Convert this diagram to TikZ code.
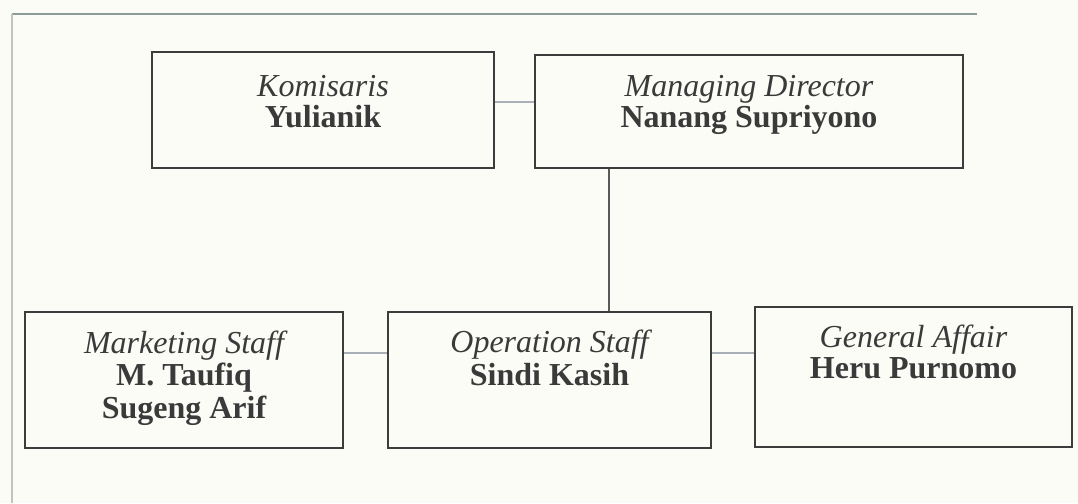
\documentclass[tikz,border=0pt]{standalone}
\usepackage{fontspec}
\setmainfont{Liberation Serif}
\begin{document}
\begin{tikzpicture}[x=1pt,y=-1pt,
  box/.style={draw=boxline,line width=1.8pt,rectangle,inner sep=0pt},
  ttl/.style={anchor=base,inner sep=0pt,text=ink,font=\fontsize{32}{34}\selectfont\itshape},
  who/.style={anchor=base,inner sep=0pt,text=ink,font=\fontsize{32}{34}\selectfont\bfseries},
  link/.style={draw=linkgray,line width=1.2pt},
  trunk/.style={draw=boxline!85,line width=1.3pt}]
\definecolor{paper}{HTML}{FCFCF7}
\definecolor{boxline}{HTML}{3C3C3C}
\definecolor{ink}{HTML}{3A3A3A}
\definecolor{linkgray}{HTML}{A9AFB6}
\definecolor{rulecol}{HTML}{8C9C9A}
\definecolor{margincol}{HTML}{C2C2C2}

% page background and frame rules
\fill[paper] (0,0) rectangle (1078,503);
\useasboundingbox (0,0) rectangle (1078,503);
\coordinate (rtl) at (12,14);
\coordinate (rtr) at (977,14);
\coordinate (rbl) at (12,503);
\draw[rulecol,line width=1.2pt] (rtl) -- (rtr);
\draw[margincol,line width=1.2pt] (rtl) -- (rbl);

% boxes
\node[box,minimum width=342pt,minimum height=116pt] (kom) at (323,110) {};
\node[box,minimum width=428pt,minimum height=113pt] (md)  at (749,111.5) {};
\node[box,minimum width=318pt,minimum height=136pt] (mkt) at (184,380) {};
\node[box,minimum width=323pt,minimum height=136pt] (ops) at (549.5,380) {};
\node[box,minimum width=317pt,minimum height=140pt] (gen) at (913.5,377) {};

% labels
\node[ttl] (kom1) at (323,96) {Komisaris};
\node[who] (kom2) at (323,127) {Yulianik};
\node[ttl] (md1) at (749,96) {Managing Director};
\node[who] (md2) at (749,127) {Nanang Supriyono};
\node[ttl] (mkt1) at (184,353) {Marketing Staff};
\node[who] (mkt2) at (184,385) {M. Taufiq};
\node[who] (mkt3) at (184,418) {Sugeng Arif};
\node[ttl] (ops1) at (549.5,352) {Operation Staff};
\node[who] (ops2) at (549.5,385) {Sindi Kasih};
\node[ttl] (gen1) at (913.5,347) {General Affair};
\node[who] (gen2) at (913.5,378) {Heru Purnomo};

% connectors
\draw[link] ([yshift=8pt]kom.east) -- ([yshift=8pt]kom.east -| md.west);
\draw[trunk] ([xshift=-140pt]md.south) -- ([xshift=-140pt]md.south |- ops.north);
\draw[link] ([yshift=27pt]mkt.east) -- ([yshift=27pt]mkt.east -| ops.west);
\draw[link] ([yshift=27pt]ops.east) -- ([yshift=27pt]ops.east -| gen.west);
\end{tikzpicture}
\end{document}
